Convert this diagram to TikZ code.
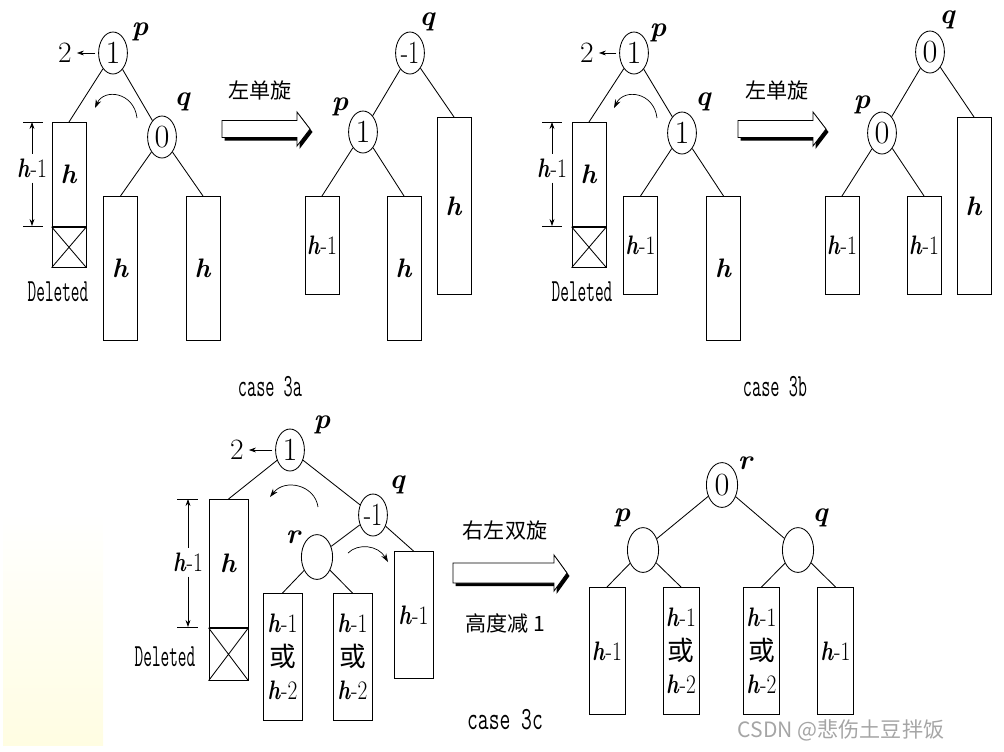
\documentclass[tikz,border=0pt]{standalone}
\usepackage{fontspec}
\newfontfamily\cjk{Noto Sans CJK SC}
\usetikzlibrary{arrows.meta,shapes.geometric,positioning}
\definecolor{wmgray}{RGB}{165,165,165}
\definecolor{paleyellow}{RGB}{255,253,226}
\newcommand{\hh}{\textbf{\textit{h}}}
\newcommand{\narrow}[2][0.7]{\scalebox{#1}[1]{#2}}
\newcommand{\hm}[1]{\narrow[0.8]{\hh-#1}}
\newcommand{\orh}{\hm1\\{\cjk 或}\\\hm2}
\newcommand{\minusone}{\narrow[0.75]{-1}}
% x, y, length, half shaft, half head
\newcommand{\fatarrow}[5]{%
  \fill[black,shift={(#1+2.5,#2+3)}] (0,-#4) -- (#3-13,-#4) -- (#3-13,-#5) -- (#3,0) -- (#3-13,#5) -- (#3-13,#4) -- (0,#4) -- cycle;
  \filldraw[fill=white,draw=black,shift={(#1,#2)}] (0,-#4) -- (#3-13,-#4) -- (#3-13,-#5) -- (#3,0) -- (#3-13,#5) -- (#3-13,#4) -- (0,#4) -- cycle;}

\begin{document}
\begin{tikzpicture}[x=0.025cm,y=-0.025cm,line width=0.6pt,
  font=\fontsize{19}{24}\selectfont,
  bal/.style={draw,ellipse,minimum width=0.72cm,minimum height=1.05cm,inner sep=0pt,font=\fontsize{23}{24}\selectfont},
  bigbal/.style={bal,minimum width=0.78cm,minimum height=1.12cm},
  subtree/.style 2 args={draw,anchor=north,inner sep=0pt,align=center,minimum width=#1*0.025cm,minimum height=#2*0.025cm},
  lbl/.style={font=\fontsize{20}{20}\selectfont\bfseries\itshape},
  zh/.style={font=\cjk\fontsize{15}{18}\selectfont},
  mono/.style={font=\fontsize{23}{24}\selectfont\ttfamily},
  small/.style={-{Stealth[length=5pt,width=3.5pt]},line width=0.5pt},
  turn/.style={-{Stealth[length=6pt,width=4pt]},line width=0.5pt}]
\useasboundingbox (0,0) rectangle (1004,751);
\shade[top color=white,bottom color=paleyellow] (3,513) rectangle (103,745);

% case 3a, before
\node[bal] (p1) at (113,53) {1};
\node[lbl] (p1l) at (140,32) {p};
\node[font=\fontsize{21}{24}\selectfont] (two1) at (65,53) {2};
\draw[small,shorten <=2pt] (p1) -- (two1);
\node[bal] (q1) at (162,137) {0};
\node[lbl] (q1l) at (182,102) {q};
\node[subtree={34}{104}] (d1) at (69,122) {\hh};
\node[subtree={34}{40}] (x1) at (d1.south) {};
\draw (x1.north west) -- (x1.south east) (x1.north east) -- (x1.south west);
\node[mono] (del1) at (58,292) {\narrow[0.52]{Deleted}};
\node[subtree={34}{144}] (a1) at (120.5,196) {\hh};
\node[subtree={34}{144}] (b1) at (203,196) {\hh};
\draw (p1) -- (d1.north) (p1) -- (q1) (q1) -- (a1.north) (q1) -- (b1.north);
\draw (23,122) -- (43,122) (23,226) -- (43,226);
\node (dim1) at (32,168) {\hm1};
\coordinate (t1) at (32,122);
\coordinate (b1t) at (32,226);
\draw[small] (dim1) -- (t1);
\draw[small] (dim1) -- (b1t);
\draw[turn] (137,118) .. controls (134,92) and (104,88) .. (95,108);

% case 3a, after
\node[zh] (rot1) at (260,90) {左单旋};
\fatarrow{222}{129}{88}{8.5}{17}
\node[bal] (q2) at (410,53) {\minusone};
\node[lbl] (q2l) at (427,22) {q};
\node[bal] (p2) at (363,132) {1};
\node[lbl] (p2l) at (340,107) {p};
\node[subtree={34}{177}] (c2) at (454,117) {\hh};
\node[subtree={34}{98}] (a2) at (322,196) {\hm1};
\node[subtree={34}{144}] (b2) at (404,196) {\hh};
\draw (q2) -- (p2) (q2) -- (c2.north) (p2) -- (a2.north) (p2) -- (b2.north);
\node[mono] (case1) at (270,387) {\narrow[0.55]{case 3a}};

% case 3b, before
\node[bal] (p3) at (634,53) {1};
\node[lbl] (p3l) at (658,33) {p};
\node[font=\fontsize{21}{24}\selectfont] (two3) at (587,53) {2};
\draw[small,shorten <=2pt] (p3) -- (two3);
\node[bal] (q3) at (682,133) {1};
\node[lbl] (q3l) at (703,102) {q};
\node[subtree={34}{104}] (d3) at (589,122) {\hh};
\node[subtree={34}{40}] (x3) at (d3.south) {};
\draw (x3.north west) -- (x3.south east) (x3.north east) -- (x3.south west);
\node[mono] (del3) at (582,292) {\narrow[0.52]{Deleted}};
\node[subtree={34}{98}] (a3) at (640.5,196) {\hm1};
\node[subtree={34}{144}] (b3) at (723.5,196) {\hh};
\draw (p3) -- (d3.north) (p3) -- (q3) (q3) -- (a3.north) (q3) -- (b3.north);
\draw (542,122) -- (562,122) (542,226) -- (562,226);
\node (dim3) at (552,168) {\hm1};
\coordinate (t3) at (552,122);
\coordinate (b3t) at (552,226);
\draw[small] (dim3) -- (t3);
\draw[small] (dim3) -- (b3t);
\draw[turn] (657,118) .. controls (654,92) and (624,88) .. (614,108);

% case 3b, after
\node[zh] (rot3) at (777,90) {左单旋};
\fatarrow{738}{129}{88}{8.5}{17}
\node[bal] (q4) at (930,52) {0};
\node[lbl] (q4l) at (947,20) {q};
\node[bal] (p4) at (882,133) {0};
\node[lbl] (p4l) at (862,105) {p};
\node[subtree={34}{177}] (c4) at (974,117) {\hh};
\node[subtree={34}{98}] (a4) at (842,196) {\hm1};
\node[subtree={34}{98}] (b4) at (924,196) {\hm1};
\draw (q4) -- (p4) (q4) -- (c4.north) (p4) -- (a4.north) (p4) -- (b4.north);
\node[mono] (case3) at (775,387) {\narrow[0.55]{case 3b}};

% case 3c, before
\node[bal] (p5) at (290,450) {1};
\node[lbl] (p5l) at (322,425) {p};
\node[font=\fontsize{21}{24}\selectfont] (two5) at (237,450) {2};
\draw[small,shorten <=2pt] (p5) -- (two5);
\node[bal] (q5) at (373,515) {\minusone};
\node[lbl] (q5l) at (397,485) {q};
\node[bigbal] (r5) at (317,557) {};
\node[lbl] (r5l) at (293,537) {r};
\node[subtree={39}{128}] (d5) at (228.5,499) {\hh};
\node[subtree={39}{52}] (x5) at (d5.south) {};
\draw (x5.north west) -- (x5.south east) (x5.north east) -- (x5.south west);
\node[mono] (del5) at (165,657) {\narrow[0.52]{Deleted}};
\node[subtree={39}{127}] (e5) at (413.5,551) {\hm1};
\node[subtree={39}{127}] (m5) at (282.5,593) {\orh};
\node[subtree={39}{127}] (n5) at (352.5,593) {\orh};
\draw (p5) -- (d5.north) (p5) -- (q5) (q5) -- (r5) (q5) -- (e5.north)
      (r5) -- (m5.north) (r5) -- (n5.north);
\draw (177,499) -- (198,499) (177,627) -- (198,627);
\node (dim5) at (188,562) {\hm1};
\coordinate (t5) at (188,499);
\coordinate (b5t) at (188,627);
\draw[small] (dim5) -- (t5);
\draw[small] (dim5) -- (b5t);
\draw[turn] (318,507) .. controls (315,485) and (285,478) .. (270,497);
\draw[turn] (348,553) .. controls (358,543) and (378,545) .. (388,562);

% case 3c, after
\node[zh] (rot5) at (505,530) {右左双旋};
\fatarrow{453}{573}{114}{10}{18}
\node[zh] (low5) at (505,623) {高度减 1};
\node[mono] (case5) at (505,720) {\narrow[0.65]{case 3c}};
\node[bigbal] (r6) at (722,485) {0};
\node[lbl] (r6l) at (745,463) {r};
\node[bigbal] (p6) at (643,550) {};
\node[lbl] (p6l) at (622,518) {p};
\node[bigbal] (q6) at (798,550) {};
\node[lbl] (q6l) at (820,518) {q};
\node[subtree={36}{127}] (f1) at (607,587) {\hm1};
\node[subtree={36}{127}] (f2) at (681,587) {\orh};
\node[subtree={36}{127}] (f3) at (761.5,587) {\orh};
\node[subtree={36}{127}] (f4) at (835.5,587) {\hm1};
\draw (r6) -- (p6) (r6) -- (q6) (p6) -- (f1.north) (p6) -- (f2.north)
      (q6) -- (f3.north) (q6) -- (f4.north);

\node[font=\cjk\fontsize{15}{18}\selectfont,text=wmgray] (mark) at (841,730) {CSDN @悲伤土豆拌饭};
\end{tikzpicture}
\end{document}
